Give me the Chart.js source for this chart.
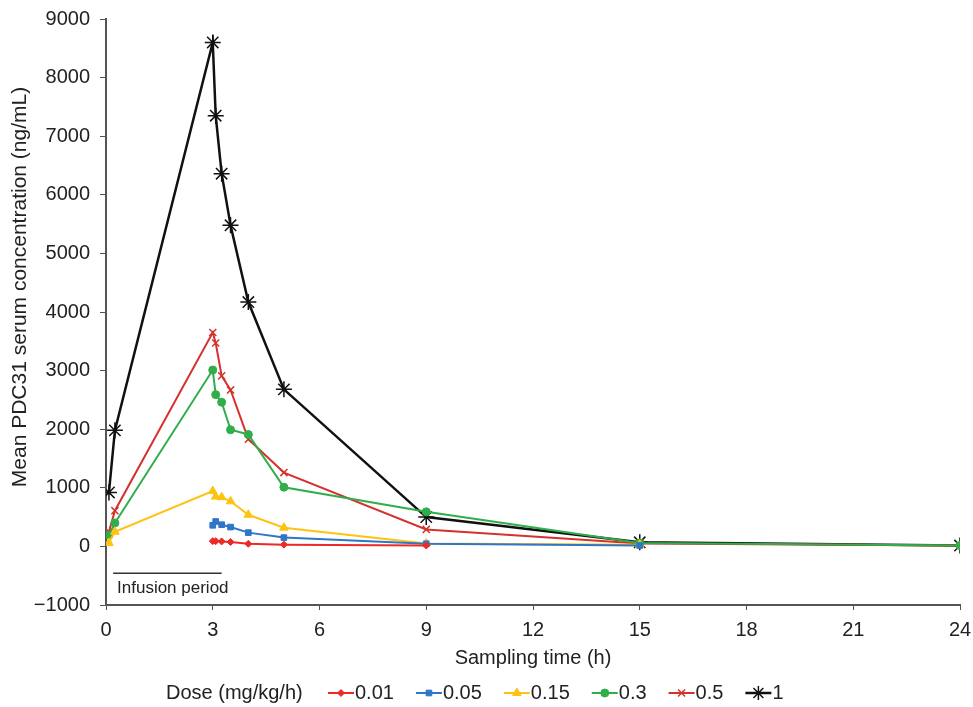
<!DOCTYPE html>
<html>
<head>
<meta charset="utf-8">
<script src="https://cdn.jsdelivr.net/npm/chart.js@4.4.1/dist/chart.umd.min.js"></script>
<style>
  html, body { margin: 0; padding: 0; background: #fff; }
  #wrap { width: 973px; height: 707px; }
</style>
</head>
<body>
<div id="wrap"><canvas id="chart"></canvas></div>
<script>
// sampling times (h)
var times = [0.083, 0.25, 3, 3.083, 3.25, 3.5, 4, 5, 9, 15, 24];
// mean serum concentration (ng/mL) per dose, null = not sampled
var dose001 = [null, null, 90, 90, 85, 75, 45, 30, 15, null, null];
var dose005 = [null, null, 360, 425, 370, 330, 235, 150, 45, 15, null];
var dose015 = [60, 250, 945, 850, 840, 770, 540, 320, 50, 30, null];
var dose03 = [190, 400, 3010, 2590, 2460, 1990, 1910, 1010, 590, 60, 15];
var dose05 = [250, 610, 3650, 3470, 2910, 2670, 1830, 1260, 290, 50, 15];
var dose1 = [920, 1980, 8600, 7350, 6360, 5480, 4170, 2680, 500, 70, 15];
var doseLabels = ["0.01", "0.05", "0.15", "0.3", "0.5", "1"];
var xTicks = [0, 3, 6, 9, 12, 15, 18, 21, 24];

var FONT = "'Liberation Sans', Arial, sans-serif";

function toPoints(vals) {
  var out = [];
  for (let i = 0; i < times.length; i++) {
    if (vals[i] !== null) out.push({ x: times[i], y: vals[i] });
  }
  return out;
}

function series(label, vals, color, style, radius, bw) {
  return {
    label: label,
    data: toPoints(vals),
    borderColor: color,
    backgroundColor: color,
    borderWidth: bw,
    pointStyle: style,
    pointRadius: radius,
    pointHoverRadius: radius,
    pointBorderColor: color,
    pointBackgroundColor: color,
    pointBorderWidth: style == "crossRot" || style == "star" ? 1.5 : 1,
    tension: 0,
    fill: false,
  };
}

var datasets = [
  series(doseLabels[0], dose001, "#ec2a27", "rectRot", 3.5, 2),
  series(doseLabels[1], dose005, "#2f76c7", "rect", 4, 2),
  series(doseLabels[2], dose015, "#fec312", "triangle", 5, 2),
  series(doseLabels[3], dose03, "#2fae4b", "circle", 4, 2),
  series(doseLabels[4], dose05, "#d4322c", "crossRot", 5, 2),
  series(doseLabels[5], dose1, "#111111", "star", 8, 2.5),
];

// y title, infusion bar + legend drawn on top
var extras = {
  id: "extras",
  afterDraw: function (chart) {
    var ctx = chart.ctx;
    var xs = chart.scales.x, ys = chart.scales.y;
    ctx.save();
    // y axis title (sits a bit above the axis centre in the original)
    ctx.save();
    ctx.translate(20, 287);
    ctx.rotate(-Math.PI / 2);
    ctx.font = "21px " + FONT;
    ctx.fillStyle = "#222";
    ctx.textAlign = "center";
    ctx.textBaseline = "middle";
    ctx.fillText("Mean PDC31 serum concentration (ng/mL)", 0, 0);
    ctx.restore();

    // infusion period
    var yLine = ys.getPixelForValue(-460);
    ctx.strokeStyle = "#333";
    ctx.lineWidth = 1.5;
    ctx.beginPath();
    ctx.moveTo(xs.getPixelForValue(0.2), yLine);
    ctx.lineTo(xs.getPixelForValue(3.25), yLine);
    ctx.stroke();
    ctx.fillStyle = "#222";
    ctx.font = "17px " + FONT;
    ctx.textBaseline = "middle";
    ctx.textAlign = "left";
    ctx.fillText("Infusion period", xs.getPixelForValue(0.31), ys.getPixelForValue(-717));

    // legend
    var ly = 693;
    ctx.font = "20px " + FONT;
    ctx.fillStyle = "#222";
    ctx.fillText("Dose (mg/kg/h)", 166, ly);
    var x = 328;
    chart.data.datasets.forEach(function (ds) {
      ctx.strokeStyle = ds.borderColor;
      ctx.lineWidth = ds.borderWidth;
      ctx.beginPath();
      ctx.moveTo(x, ly);
      ctx.lineTo(x + 26, ly);
      ctx.stroke();
      ctx.fillStyle = ds.backgroundColor;
      ctx.lineWidth = ds.pointBorderWidth;
      Chart.helpers.drawPoint(ctx, {
        pointStyle: ds.pointStyle,
        radius: ds.pointStyle == "star" ? 7 : ds.pointRadius,
        rotation: 0,
        borderWidth: ds.pointBorderWidth,
      }, x + 13, ly);
      ctx.fillStyle = "#222";
      ctx.fillText(ds.label, x + 27, ly);
      x += 27 + ctx.measureText(ds.label).width + 22;
    });
    ctx.restore();
  },
};

new Chart(document.getElementById("chart"), {
  type: "line",
  data: { datasets: datasets },
  options: {
    responsive: true,
    maintainAspectRatio: false,
    animation: false,
    events: [],
    layout: { padding: { top: 19, right: 13, bottom: 32, left: 0 } },
    plugins: {
      legend: { display: false },
      tooltip: { enabled: false },
    },
    scales: {
      x: {
        type: "linear",
        min: 0,
        max: 24,
        afterBuildTicks: function (scale) {
          scale.ticks = xTicks.map(function (v) { return { value: v }; });
        },
        afterFit: function (scale) {
          scale.height = 70;
          scale.paddingLeft = 0;
          scale.paddingRight = 0;
        },
        border: { color: "#555", width: 2 },
        grid: { drawOnChartArea: false, drawTicks: true, tickLength: 5, color: "#555" },
        ticks: {
          color: "#222",
          padding: 8,
          maxRotation: 0,
          font: { size: 20, family: FONT },
        },
        title: {
          display: true,
          text: "Sampling time (h)",
          color: "#222",
          padding: { top: 0, bottom: 5 },
          font: { size: 20, family: FONT },
        },
      },
      y: {
        min: -1000,
        max: 9000,
        afterFit: function (scale) {
          scale.width = 106;
          scale.paddingTop = 0;
          scale.paddingBottom = 0;
        },
        border: { color: "#555", width: 2 },
        grid: { drawOnChartArea: false, drawTicks: true, tickLength: 6, color: "#555" },
        ticks: {
          stepSize: 1000,
          color: "#222",
          padding: 10,
          font: { size: 20, family: FONT },
          callback: function (v) { return String(v).replace("-", "\u2212"); },
        },
        title: { display: false },
      },
    },
  },
  plugins: [extras],
});
</script>
</body>
</html>
